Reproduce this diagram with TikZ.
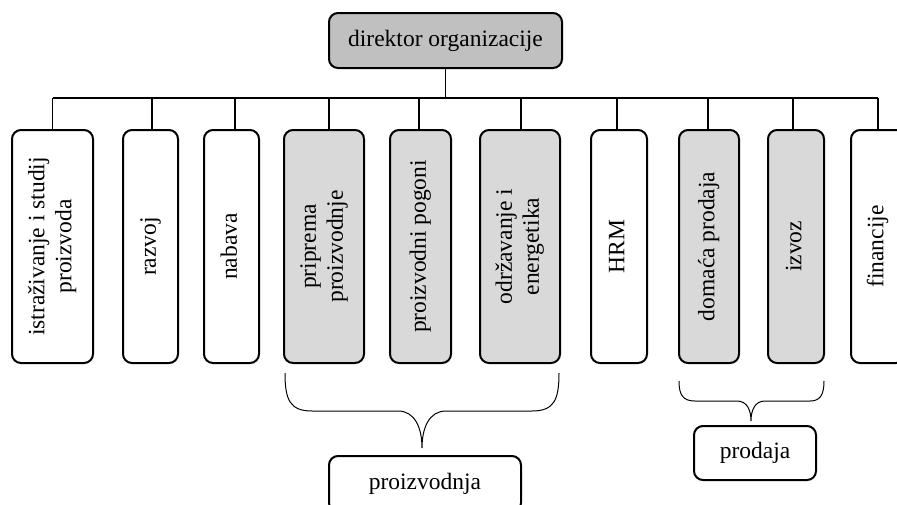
\documentclass[tikz,border=0pt]{standalone}
\usepackage{fontspec}
\setmainfont{Liberation Serif}
\usepackage{graphicx}
\newcommand\myvlab[1]{\rotatebox{90}{\begin{tabular}{@{}c@{}}#1\end{tabular}}}
\definecolor{topgray}{HTML}{C0C0C0}
\definecolor{unitgray}{HTML}{D9D9D9}
\begin{document}
\begin{tikzpicture}[x=1pt,y=-1pt,
  box/.style={draw, line width=2pt, rounded corners=9pt, inner sep=0pt,
    font=\fontsize{23.5}{27}\selectfont, align=center},
  unit/.style={box, minimum height=233pt},
  shaded/.style={fill=unitgray},
  conn/.style={line width=1.3pt},
  bracepath/.style={line width=1pt}]
\useasboundingbox (0,0) rectangle (897,504);

\node[box, fill=topgray, minimum width=233pt, minimum height=55pt] (dir) at (445.5,40.5) {direktor organizacije};

\node[unit, minimum width=81pt] (b1) at (52.5,246.5) {\myvlab{istraživanje i studij\\proizvoda}};
\node[unit, minimum width=55pt] (b2) at (150.5,246.5) {\myvlab{razvoj}};
\node[unit, minimum width=55pt] (b3) at (231.5,246.5) {\myvlab{nabava}};
\node[unit, shaded, minimum width=80pt] (b4) at (324,246.5) {\myvlab{priprema\\proizvodnje}};
\node[unit, shaded, minimum width=61pt] (b5) at (420.5,246.5) {\myvlab{proizvodni pogoni}};
\node[unit, shaded, minimum width=80pt] (b6) at (520,246.5) {\myvlab{održavanje i\\energetika}};
\node[unit, minimum width=56pt] (b7) at (619,246.5) {\myvlab{HRM}};
\node[unit, shaded, minimum width=60pt] (b8) at (709,246.5) {\myvlab{domaća prodaja}};
\node[unit, shaded, minimum width=56pt] (b9) at (796,246.5) {\myvlab{izvoz}};
\node[unit, minimum width=54pt] (b10) at (878,246.5) {\myvlab{financije}};

\coordinate (busL) at (53,98);
\coordinate (busR) at (878,98);
\draw[conn] (busL) -- (busR);
\draw[conn] (dir.south) -- (dir.south |- busL);
\foreach \b/\s in {b1/0,b2/1.5,b3/3.5,b4/5,b5/-1.5,b6/1,b7/-2,b8/-1,b9/-3,b10/0}{
  \draw[conn] ([xshift=\s pt]\b.north) -- ([xshift=\s pt]\b.north |- busL);
}

\node[box, minimum width=192pt, minimum height=56pt] (proizv) at (425,484) {proizvodnja};
\node[box, minimum width=122pt, minimum height=54pt] (prod) at (755,453) {prodaja};

\draw[bracepath] (285,373) .. controls (285,400) and (290,411) .. (312,411) -- (398,411)
  .. controls (415,411) and (422,428) .. (422,448)
  .. controls (422,428) and (429,411) .. (446,411) -- (532,411)
  .. controls (554,411) and (559,400) .. (559,373);
\draw[bracepath] (679,381) .. controls (679,395) and (683,401) .. (695,401) -- (737,401)
  .. controls (747,401) and (751,410) .. (751,421)
  .. controls (751,410) and (755,401) .. (765,401) -- (810,401)
  .. controls (820,401) and (824,395) .. (824,381);
\end{tikzpicture}
\end{document}
